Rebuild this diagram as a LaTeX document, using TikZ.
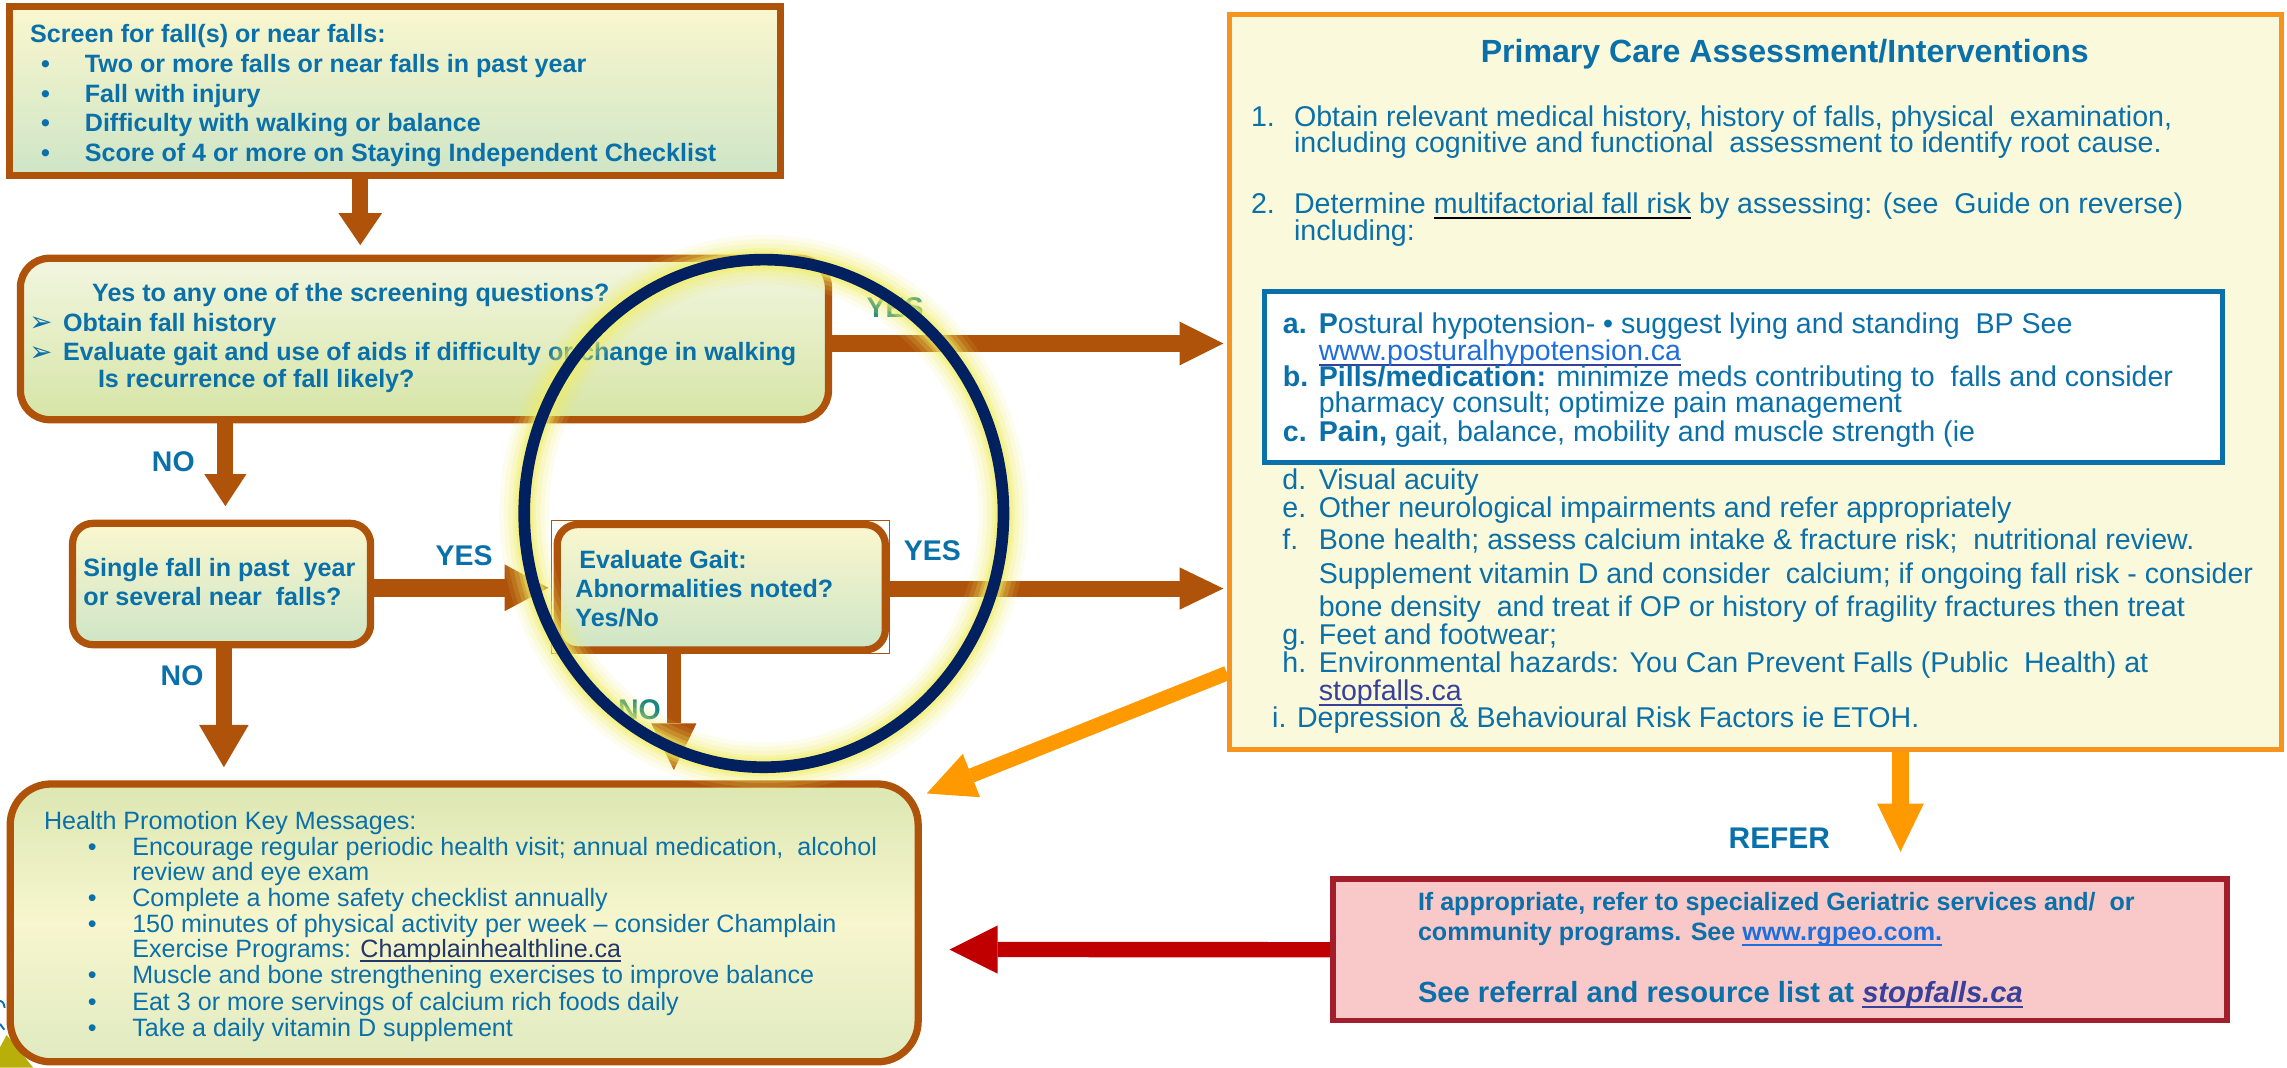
\documentclass[tikz,border=0pt]{standalone}
\usepackage{fontspec}
\setmainfont{Liberation Sans}
\newfontfamily\dingfont{DejaVu Sans}
\usetikzlibrary{arrows.meta}

\definecolor{boxbrown}{RGB}{175,82,10}
\definecolor{ptblue}{RGB}{10,112,170}
\definecolor{navyring}{RGB}{0,32,96}
\definecolor{glowyel}{RGB}{242,238,100}
\definecolor{orangearr}{RGB}{255,153,0}
\definecolor{panelorange}{RGB}{247,148,29}
\definecolor{panelfill}{RGB}{251,249,220}
\definecolor{refred}{RGB}{162,30,42}
\definecolor{reffill}{RGB}{249,201,201}
\definecolor{arrred}{RGB}{192,0,0}
\definecolor{linkblue}{RGB}{30,110,220}
\definecolor{linknavy}{RGB}{55,65,155}
\definecolor{champnavy}{RGB}{35,55,105}
\definecolor{teallbl}{RGB}{25,135,125}
\definecolor{olivecorner}{RGB}{185,175,10}
\definecolor{boxtop}{RGB}{250,247,206}
\definecolor{boxbot}{RGB}{206,229,198}
\definecolor{qtop}{RGB}{242,246,224}
\definecolor{qbot}{RGB}{214,229,166}
\definecolor{hptop}{RGB}{220,231,178}
\definecolor{hpmid}{RGB}{247,246,206}
\definecolor{hpbot}{RGB}{224,234,192}

% underlined link text: #1 rule colour, #2 drop below baseline, #3 text
\newsavebox\linkbox
\newcommand{\ulink}[3]{\sbox\linkbox{#3}\rlap{\color{#1}\rule[-#2]{\wd\linkbox}{1.3pt}}\usebox\linkbox}

\tikzset{
  flowbox/.style={draw=boxbrown, line width=5pt, inner sep=0pt, shape=rectangle},
  boxtxt/.style={anchor=base west, inner sep=0pt, text=ptblue, font=\bfseries\fontsize{17.2}{20}\selectfont},
  hptxt/.style={anchor=base west, inner sep=0pt, text=ptblue, font=\fontsize{17.2}{20}\selectfont},
  pantxt/.style={anchor=base west, inner sep=0pt, text=ptblue, font=\fontsize{19.6}{23}\selectfont},
  lbl/.style={anchor=base west, inner sep=0pt, text=ptblue, font=\bfseries\fontsize{19.5}{23}\selectfont},
  refertxt/.style={anchor=base west, inner sep=0pt, text=ptblue, font=\bfseries\fontsize{17.2}{20}\selectfont},
  arrowglyph/.style={anchor=base west, inner sep=0pt, text=ptblue, font=\dingfont\fontsize{19}{22}\selectfont},
  brownarrow/.style={draw=boxbrown, line width=11pt},
  orangearrow/.style={draw=orangearr, line width=11pt},
  redarrow/.style={draw=arrred, line width=10.5pt},
}

\begin{document}
\begin{tikzpicture}[x=1pt,y=-1pt]
\useasboundingbox (0,0) rectangle (1568,732);
\fill[white] (0,0) rectangle (1568,732);

% corner fragments at the lower left edge
\fill[olivecorner] (0,732) -- (0,718) -- (4.6,709.6) -- (22.8,732) -- cycle;
\draw[ptblue, line width=1.3pt] (0,686) .. controls (2.5,687.5) .. (3.2,691);
\draw[ptblue, line width=1.3pt] (0,702) -- (3,706);

% ---------- flow boxes ----------
\node[flowbox, minimum width=528.5pt, minimum height=116pt,
      top color=boxtop, bottom color=boxbot] (screen) at (270.75,62.5) {};
\node[flowbox, rounded corners=20pt, minimum width=554pt, minimum height=110.7pt,
      top color=qtop, bottom color=qbot] (anyyes) at (291,232.4) {};
\node[flowbox, rounded corners=14pt, minimum width=204.3pt, minimum height=83.2pt,
      top color=boxtop, bottom color=boxbot] (single) at (151.9,400.4) {};
\node[flowbox, rounded corners=14pt, minimum width=225pt, minimum height=86pt,
      top color=boxtop, bottom color=boxbot] (gait) at (494.5,402.6) {};
\draw[boxbrown, line width=0.8pt] ([xshift=-1.5pt]gait.south west) rectangle ([xshift=0.5pt]gait.north east);
\node[flowbox, rounded corners=28pt, minimum width=622.5pt, minimum height=190.5pt,
      top color=hptop, bottom color=hpbot, middle color=hpmid] (promo) at (318.25,632.75) {};

% ---------- assessment panel ----------
\node[draw=panelorange, fill=panelfill, line width=3.5pt, inner sep=0pt,
      minimum width=721.5pt, minimum height=503.7pt] (panel) at (1203.75,261.85) {};
\node[draw=ptblue, fill=white, line width=3.5pt, inner sep=0pt,
      minimum width=657pt, minimum height=117pt] (factors) at (1195.5,258.5) {};

% ---------- referral box ----------
\node[draw=refred, fill=reffill, line width=4pt, inner sep=0pt,
      minimum width=613pt, minimum height=97.2pt] (refer) at (1220.5,651.1) {};

% ---------- texts: screening ----------
\node[boxtxt] (s0) at (20.5,29) {Screen for fall(s) or near falls:};
\foreach \yy/\tt [count=\i] in {50/Two or more falls or near falls in past year,
    70/Fall with injury, 90/Difficulty with walking or balance,
    110.5/Score of 4 or more on Staying Independent Checklist} {
  \node[boxtxt] (sb\i) at (28,\yy) {•};
  \node[boxtxt] (st\i) at (58,\yy) {\tt};
}

\node[boxtxt] (q0) at (63,207) {Yes to any one of the screening questions?};
\node[arrowglyph] (qa1) at (20,227.5) {➢};
\node[boxtxt] (q1) at (43,227) {Obtain fall history};
\node[arrowglyph] (qa2) at (20,247.5) {➢};
\node[boxtxt] (q2) at (43,247) {Evaluate gait and use of aids if difficulty or change in walking};
\node[boxtxt] (q3) at (67,265.5) {Is recurrence of fall likely?};

\node[boxtxt] (f1) at (57,395.5) {Single fall in past~ year};
\node[boxtxt] (f2) at (57,415) {or several near~ falls?};

\node[boxtxt] (g1) at (397,389.5) {Evaluate Gait:};
\node[boxtxt] (g2) at (394.3,409.5) {Abnormalities noted?};
\node[boxtxt] (g3) at (394.3,429.5) {Yes/No};

% ---------- texts: health promotion ----------
\node[hptxt] (h0) at (30,569) {Health Promotion Key Messages:};
\foreach \yy in {586.5,621.5,639.5,674.5,692.5,710.5}
  \node[hptxt] at (60,\yy) {•};
\node[hptxt] (h1) at (90.5,586.5) {Encourage regular periodic health visit; annual medication,~ alcohol};
\node[hptxt] (h1b) at (90.5,603.5) {review and eye exam};
\node[hptxt] (h2) at (90.5,621.5) {Complete a home safety checklist annually};
\node[hptxt] (h3) at (90.5,639.5) {150 minutes of physical activity per week – consider Champlain};
\node[hptxt] (h3b) at (90.5,656.5) {Exercise Programs: \ulink{champnavy}{3pt}{\color{champnavy}Champlainhealthline.ca}};
\node[hptxt] (h4) at (90.5,674.5) {Muscle and bone strengthening exercises to improve balance};
\node[hptxt] (h5) at (90.5,692.5) {Eat 3 or more servings of calcium rich foods daily};
\node[hptxt] (h6) at (90.5,710.5) {Take a daily vitamin D supplement};

% ---------- texts: assessment panel ----------
\node[anchor=base, inner sep=0pt, text=ptblue, font=\bfseries\fontsize{22}{26}\selectfont]
  (ptitle) at (1223.7,43) {Primary Care Assessment/Interventions};
\node[pantxt] (n1) at (857.5,86.5) {1.};
\node[pantxt] (p1a) at (887,86.5) {Obtain relevant medical history, history of falls, physical~ examination,};
\node[pantxt] (p1b) at (887,104.5) {including cognitive and functional~ assessment to identify root cause.};
\node[pantxt] (n2) at (857.5,146.5) {2.};
\node[pantxt] (p2a) at (887,146.5) {Determine \ulink{black}{3.6pt}{multifactorial fall risk} by assessing: (see~ Guide on reverse)};
\node[pantxt] (p2b) at (887,165) {including:};

\node[pantxt] (la) at (879.4,228.5) {\bfseries a.};
\node[pantxt] (ta) at (904,228.5) {\textbf{P}ostural hypotension- • suggest lying and standing~ BP See};
\node[pantxt] (ta2) at (904,247) {\ulink{linknavy}{3.8pt}{\color{linkblue}www.posturalhypotension.ca}};
\node[pantxt] (lb) at (879.4,265) {\bfseries b.};
\node[pantxt] (tb) at (904,265) {\textbf{Pills/medication:} minimize meds contributing to~ falls and consider};
\node[pantxt] (tb2) at (904,283) {pharmacy consult; optimize pain management};
\node[pantxt] (lc) at (879.4,302.5) {\bfseries c.};
\node[pantxt] (tc) at (904,302.5) {\textbf{Pain,} gait, balance, mobility and muscle strength (ie};

\node[pantxt] (ld) at (879,335.5) {d.};
\node[pantxt] (td) at (904,335.5) {Visual acuity};
\node[pantxt] (le) at (879,354.5) {e.};
\node[pantxt] (te) at (904,354.5) {Other neurological impairments and refer appropriately};
\node[pantxt] (lf) at (879,376.5) {f.};
\node[pantxt] (tf) at (904,376.5) {Bone health; assess calcium intake \& fracture risk;~ nutritional review.};
\node[pantxt] (tf2) at (904,400) {Supplement vitamin D and consider~ calcium; if ongoing fall risk - consider};
\node[pantxt] (tf3) at (904,423) {bone density~ and treat if OP or history of fragility fractures then treat};
\node[pantxt] (lg) at (879,442) {g.};
\node[pantxt] (tg) at (904,442) {Feet and footwear;};
\node[pantxt] (lh) at (879,461) {h.};
\node[pantxt] (th) at (904,461) {Environmental hazards: You Can Prevent Falls (Public~ Health) at};
\node[pantxt] (th2) at (904,480) {\ulink{linknavy}{3.8pt}{\color{linknavy}stopfalls.ca}};
\node[pantxt] (ti) at (872,499) {i. Depression \& Behavioural Risk Factors ie ETOH.};

% ---------- texts: referral ----------
\node[lbl, font=\bfseries\fontsize{20.5}{24}\selectfont] (refl) at (1185,581.5) {REFER};
\node[refertxt] (r1) at (972,624.5) {If appropriate, refer to specialized Geriatric services and/~ or};
\node[refertxt] (r2) at (972,645) {community programs. See \ulink{linkblue}{3.6pt}{\color{linkblue}www.rgpeo.com.}};
\node[refertxt, font=\bfseries\fontsize{20}{24}\selectfont] (r3) at (972,687.5)
  {See referral and resource list at \ulink{linknavy}{3.8pt}{\color{linknavy}\itshape stopfalls.ca}};

% ---------- connectors ----------
\draw[brownarrow, -{Triangle[length=22pt,width=30pt,line width=0pt]}, shorten >=6.5pt]
  ([xshift=-23.75pt]screen.south) -- ([xshift=-44pt]anyyes.north);
\draw[brownarrow, -{Triangle[length=22pt,width=29pt,line width=0pt]}, shorten >=9.3pt]
  ([xshift=-136.5pt]anyyes.south) -- ([xshift=2.6pt]single.north);
\draw[brownarrow, -{Triangle[length=29pt,width=34pt,line width=0pt]}, shorten >=9pt]
  ([xshift=1.6pt]single.south) -- ([xshift=-164.75pt]promo.north);
\draw[brownarrow, line width=12pt, -{Triangle[length=30pt,width=32pt,line width=0pt]}, shorten >=3.5pt]
  ([yshift=-2.6pt]single.east) -- ([yshift=-0.4pt]gait.west);
\draw[brownarrow, -{Triangle[length=30pt,width=29pt,line width=0pt]}, shorten >=2.5pt]
  ([yshift=-0.9pt]gait.east) -- ([yshift=-141.65pt]panel.west);
\draw[brownarrow, -{Triangle[length=30pt,width=30pt,line width=0pt]}, shorten >=2.5pt]
  ([yshift=-3.1pt]anyyes.east) -- ([yshift=26.35pt]panel.west);
\draw[brownarrow, line width=10pt, -{Triangle[length=32pt,width=31pt,line width=0pt]}, shorten >=7pt]
  ([xshift=-32.5pt]gait.south) -- ([xshift=143.75pt]promo.north);

\draw[orangearrow, -{Triangle[length=33pt,width=32pt,line width=0pt]}, shorten >=16.5pt]
  ([xshift=99.25pt]panel.south) -- ([xshift=82.5pt]refer.north);
\draw[orangearrow, line width=10pt, -{Triangle[length=33pt,width=32pt,line width=0pt]}]
  ([yshift=-199.65pt]panel.west) -- ([xshift=3.4pt,yshift=-9pt]promo.north east);
\draw[redarrow, -{Triangle[length=33pt,width=33pt,line width=0pt]}, shorten >=19pt]
  (refer.west) -- ([yshift=-18.25pt]promo.east);

% ---------- branch labels ----------
\node[lbl, text=teallbl] (yes1) at (594,217.7) {YES};
\node[lbl] (no1) at (104,323) {NO};
\node[lbl] (yes2) at (298.5,387.5) {YES};
\node[lbl] (yes3) at (619.5,384) {YES};
\node[lbl] (no2) at (110,470) {NO};
\node[lbl, text=teallbl] (no3) at (423.6,493) {NO};

% ---------- highlighted ring ----------
\foreach \w/\o in {34/0.10, 28/0.14, 22/0.20, 16/0.30, 12/0.40}
  \draw[glowyel, line width=\w pt, opacity=\o] (523.7,352) ellipse [x radius=164.3, y radius=174];
\draw[navyring, line width=8pt] (523.7,352) ellipse [x radius=164.3, y radius=174];
\end{tikzpicture}
\end{document}
